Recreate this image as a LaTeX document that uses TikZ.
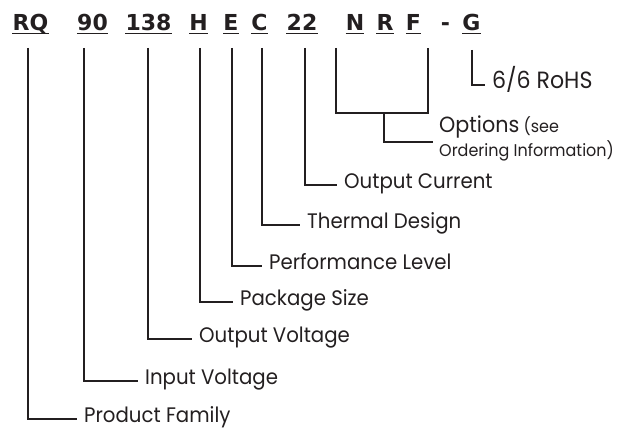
\documentclass[tikz,border=0pt]{standalone}
\usepackage{fontspec}
\setmainfont{Poppins}[FakeStretch=0.94]
\newfontfamily\codefont{DejaVu Sans}
\usetikzlibrary{positioning}
\definecolor{ink}{HTML}{231F20}

\begin{document}
\begin{tikzpicture}[x=1pt, y=-1pt, every node/.style={inner sep=0pt},
    code/.style={font=\fontsize{22}{26}\selectfont\codefont\bfseries, text=ink, anchor=base},
    lbl/.style={font=\fontsize{21}{25}\selectfont, text=ink, anchor=west, inner xsep=7pt,
                text height=0.8em, text depth=0.15em},
    small/.style={font=\fontsize{17}{20}\selectfont, text=ink, anchor=base west},
    lead/.style={draw=ink, line width=1.8pt},
    uline/.style={draw=ink, line width=1.8pt}]
    \useasboundingbox (0,0) rectangle (618,430);

    % part number
    \node[code] (rq)   at (30.5,31) {RQ};
    \node[code] (vin)  at (92.5,31) {90};
    \node[code] (vout) at (148.5,31) {138};
    \node[code] (pkg)  at (198.5,31) {H};
    \node[code] (perf) at (231,31) {E};
    \node[code] (therm) at (259.5,31) {C};
    \node[code] (iout) at (302,31) {22};
    \node[code] (optn) at (355,31) {N};
    \node[code] (optr) at (385,31) {R};
    \node[code] (optf) at (413.5,31) {F};
    \node[code] (dash) at (445.5,31) {-};
    \node[code] (rohs) at (471.5,31) {G};

    % underlines
    \foreach \n in {rq,vin,vout,pkg,perf,therm,iout,optn,optr,optf,rohs}
        \draw[uline] ([yshift=-2.5pt]\n.base west) -- ([yshift=-2.5pt]\n.base east);

    % tops of the leads
    \coordinate (rq-top)    at (28,48);
    \coordinate (vin-top)   at (84,48);
    \coordinate (vout-top)  at (148,48);
    \coordinate (pkg-top)   at (200,48);
    \coordinate (perf-top)  at (232,48);
    \coordinate (therm-top) at (262,48);
    \coordinate (iout-top)  at (305,48);
    \coordinate (optn-top)  at (336,48);
    \coordinate (optf-top)  at (428,48);
    \coordinate (rohs-top)  at (472,50);

    % options bracket
    \coordinate (bra-l) at (336,113);
    \coordinate (bra-m) at (384,113);
    \coordinate (bra-r) at (428,113);

    % labels
    \node[lbl] (lfam)   at (77,419)  {Product Family};
    \node[lbl] (lvin)   at (138,381) {Input Voltage};
    \node[lbl] (lvout)  at (192,339) {Output Voltage};
    \node[lbl] (lpkg)   at (233,302) {Package Size};
    \node[lbl] (lperf)  at (262,266) {Performance Level};
    \node[lbl] (ltherm) at (300,225) {Thermal Design};
    \node[lbl] (liout)  at (337,185) {Output Current};
    \node[lbl, font=\fontsize{23.5}{26}\selectfont] (lrohs) at (485,85) {6/6 RoHS};
    \node[small] (lopt) at (439,133) {{\fontsize{22}{26}\selectfont Options} (see};
    \node[small] (lord) at (439,157) {Ordering Information)};

    % leads
    \draw[lead] (rq-top) |- (lfam.west);
    \draw[lead] (vin-top) |- (lvin.west);
    \draw[lead] (vout-top) |- (lvout.west);
    \draw[lead] (pkg-top) |- (lpkg.west);
    \draw[lead] (perf-top) |- (lperf.west);
    \draw[lead] (therm-top) |- (ltherm.west);
    \draw[lead] (iout-top) |- (liout.west);
    \draw[lead] (rohs-top) |- (lrohs.west);
    \draw[lead] (optn-top) -- (bra-l) -- (bra-r) -- (optf-top);
    \draw[lead] (bra-m) |- ([xshift=-6pt,yshift=-1pt]lord.north west);
\end{tikzpicture}
\end{document}
